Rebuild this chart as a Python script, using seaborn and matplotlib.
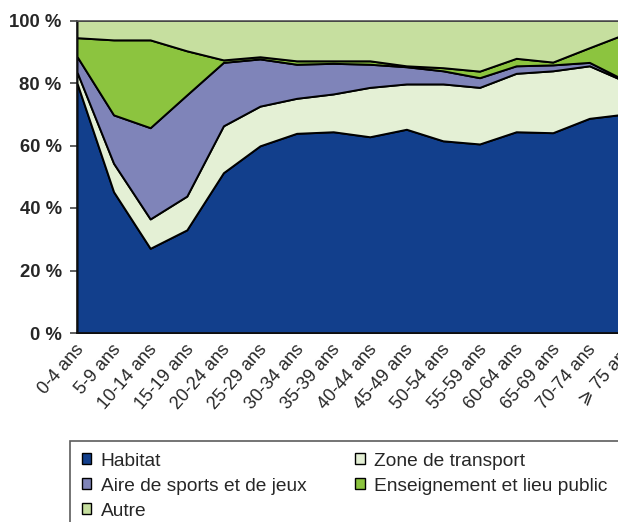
import matplotlib
matplotlib.use('Agg')
import matplotlib.pyplot as plt
import matplotlib.transforms as mtransforms
from matplotlib.patches import Patch
import seaborn as sns

# age groups and share (%) of each place type
ages = ['0-4 ans', '5-9 ans', '10-14 ans', '15-19 ans', '20-24 ans', '25-29 ans',
        '30-34 ans', '35-39 ans', '40-44 ans', '45-49 ans', '50-54 ans', '55-59 ans',
        '60-64 ans', '65-69 ans', '70-74 ans', '\u2a7e 75 ans']
habitat = [80.0, 45.2, 27.1, 33.0, 51.3, 59.9, 63.9, 64.4, 62.8, 65.2, 61.5, 60.5, 64.4, 64.1, 68.7, 70.1]
transport = [3.5, 9.1, 9.4, 10.8, 15.0, 12.7, 11.2, 12.1, 15.8, 14.5, 18.2, 18.1, 18.7, 19.8, 16.8, 10.3]
sports = [5.0, 15.5, 29.2, 32.4, 20.3, 15.1, 10.9, 9.8, 7.4, 5.5, 4.2, 3.1, 2.4, 1.9, 1.1, 0.3]
enseignement = [6.0, 24.0, 28.1, 14.1, 0.8, 0.7, 1.1, 0.8, 1.1, 0.3, 1.0, 2.1, 2.4, 0.9, 4.7, 15.1]
autre = [5.5, 6.2, 6.2, 9.7, 12.6, 11.6, 12.9, 12.9, 12.9, 14.5, 15.1, 16.2, 12.1, 13.3, 8.7, 4.2]

names = ['Habitat', 'Zone de transport', 'Aire de sports et de jeux',
         'Enseignement et lieu public', 'Autre']
colors = ['#123f8c', '#e4f0d5', '#7f84b9', '#8cc43f', '#c6df9f']

sns.set_theme(style='white')
plt.rcParams['font.family'] = ['Liberation Sans', 'DejaVu Sans']

fig = plt.figure(figsize=(6.18, 5.22), dpi=100)
ax = fig.add_axes([77 / 618, 189 / 522, 549 / 618, 312.5 / 522])

x = list(range(len(ages)))
ax.stackplot(x, habitat, transport, sports, enseignement, autre,
             colors=colors, edgecolor='black', linewidth=1.4)

ax.set_xlim(0, len(ages) - 1)
ax.set_ylim(0, 100)
ax.set_yticks([0, 20, 40, 60, 80, 100])
ax.set_yticklabels(['0 %', '20 %', '40 %', '60 %', '80 %', '100 %'],
                   fontweight='bold', fontsize=13.3)
ax.tick_params(axis='y', direction='out', length=5, width=1.2, color='#444444', pad=6, left=True)
ax.set_xticks(x)
ax.set_xticklabels(ages, rotation=49, ha='right', va='center',
                   rotation_mode='anchor', fontsize=13)
ax.tick_params(axis='x', direction='in', length=3, width=1, color='#222222', pad=10, bottom=True)
offset = mtransforms.ScaledTranslation(4 / 100, 0, fig.dpi_scale_trans)
for lab in ax.get_xticklabels():
    lab.set_transform(lab.get_transform() + offset)

for side in ['left', 'bottom']:
    ax.spines[side].set_color('#111111')
    ax.spines[side].set_linewidth(1.2)
ax.spines['top'].set_color('#555555')
ax.spines['top'].set_linewidth(1.2)
ax.spines['right'].set_visible(False)

handles = [Patch(facecolor=colors[i], edgecolor='black', linewidth=1, label=names[i])
           for i in [0, 2, 4, 1, 3]]
leg = fig.legend(handles=handles, ncol=2, loc='upper left',
                 bbox_to_anchor=(70 / 618, 1 - 441 / 522), fontsize=13.8,
                 frameon=True, fancybox=False, edgecolor='#333333',
                 handlelength=0.5, handleheight=0.5, handletextpad=0.5,
                 labelspacing=0.42, columnspacing=2.55, borderpad=0.6,
                 borderaxespad=0)
leg.get_frame().set_linewidth(1.2)

fig.savefig('out.png', dpi=100)
